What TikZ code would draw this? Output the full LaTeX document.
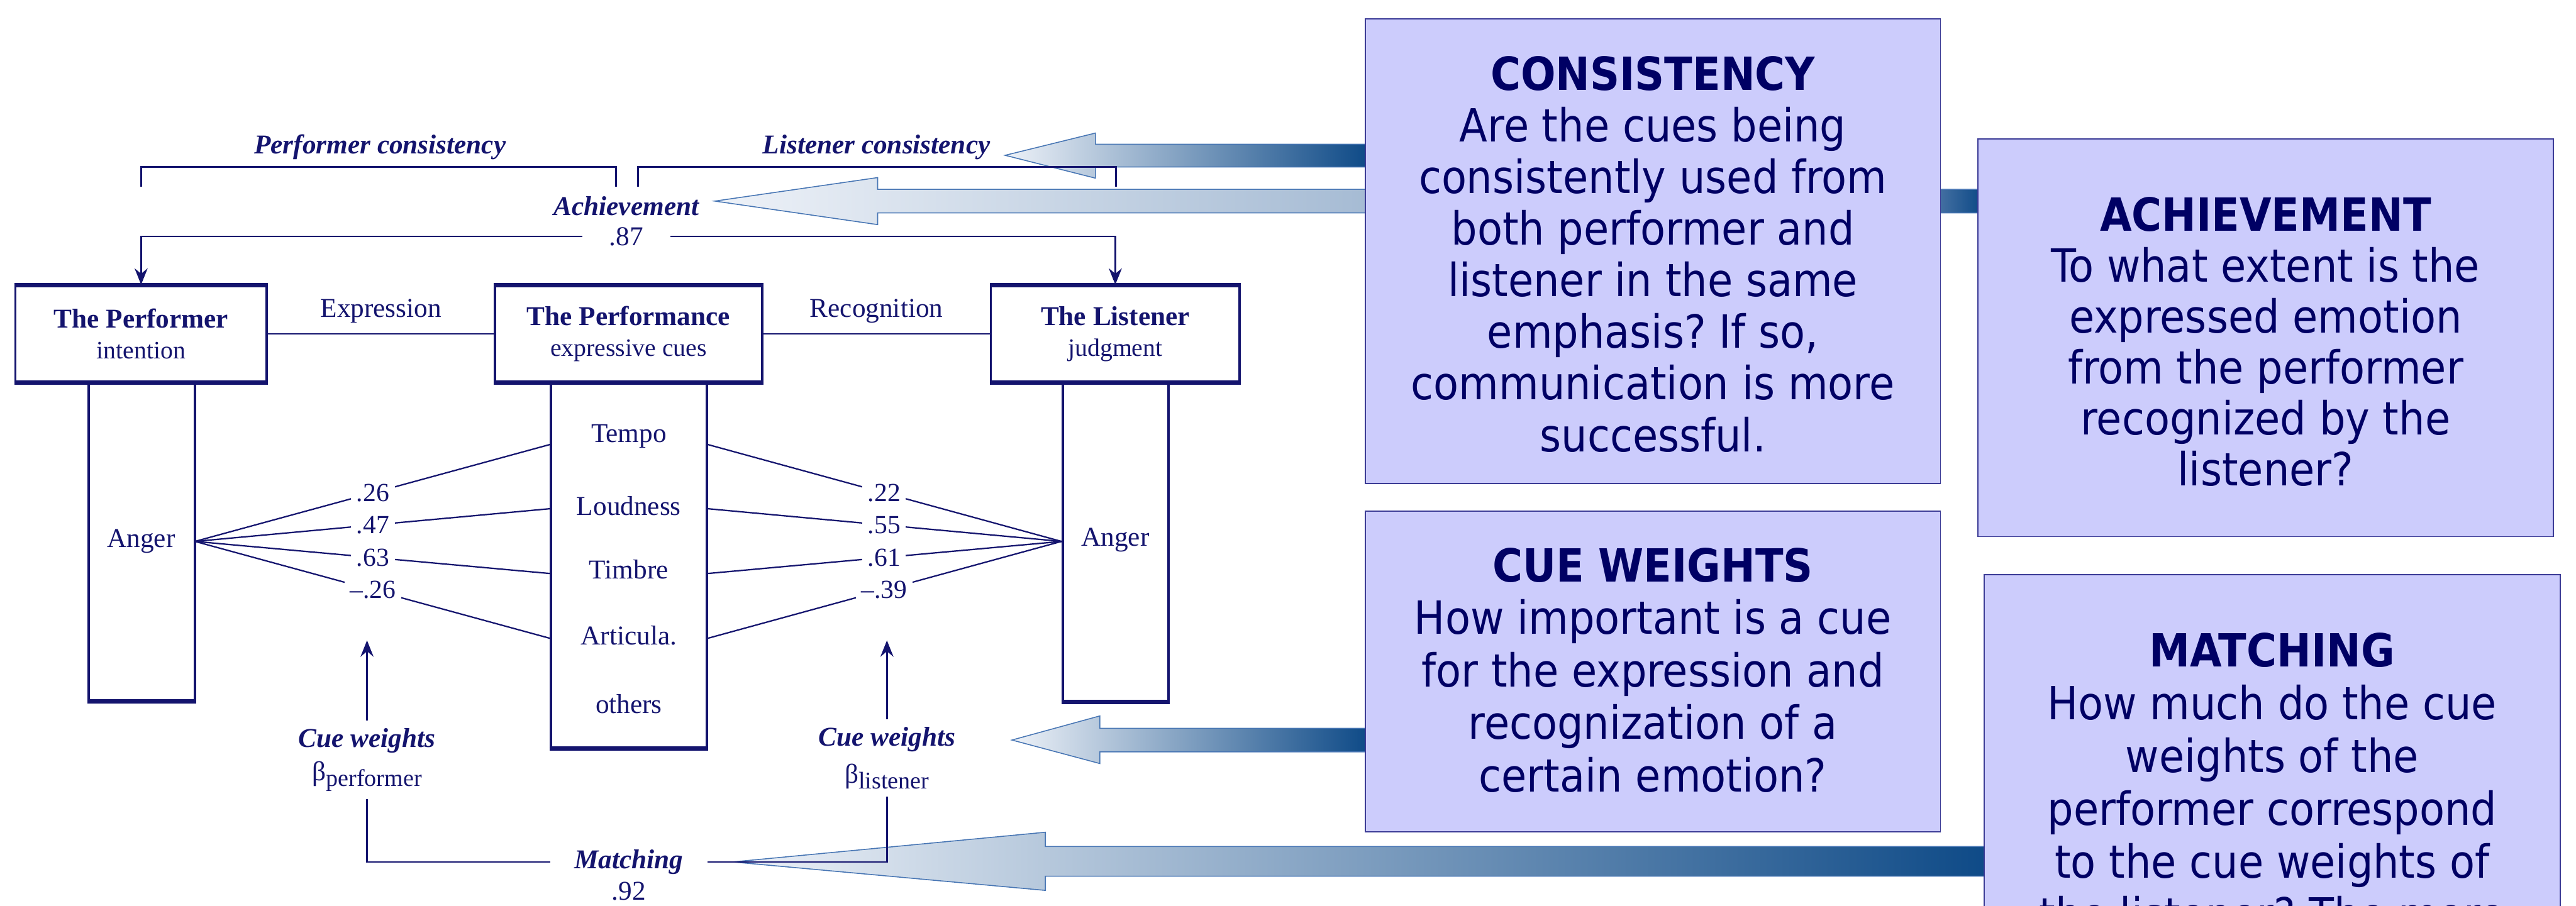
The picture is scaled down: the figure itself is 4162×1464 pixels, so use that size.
\documentclass[tikz,border=0pt]{standalone}
\usepackage{fontspec}
\setmainfont{Liberation Serif}
\newfontfamily\boxfont{DejaVu Sans Condensed}
\usetikzlibrary{arrows.meta}
\frenchspacing
\definecolor{dnavy}{RGB}{20,20,110}
\definecolor{boxfill}{RGB}{204,204,252}
\definecolor{boxline}{RGB}{60,60,150}
\definecolor{boxtext}{RGB}{0,0,100}
\definecolor{arrline}{RGB}{72,118,180}
\definecolor{gl}{RGB}{238,242,248}
\definecolor{gd}{RGB}{14,74,135}
\definecolor{gm}{RGB}{168,189,213}
\definecolor{gmm}{RGB}{80,120,168}
\pgfdeclarehorizontalshading{gradlin}{100bp}{color(0bp)=(gl); color(25bp)=(gl); color(75bp)=(gd); color(100bp)=(gd)}
\pgfdeclarehorizontalshading{gradach}{100bp}{color(0bp)=(gl); color(25bp)=(gl); color(50bp)=(gm); color(73bp)=(gmm); color(75bp)=(gd); color(100bp)=(gd)}
\begin{document}
\begin{tikzpicture}[x=0.01cm,y=-0.01cm,
  ln/.style={draw=dnavy,line width=0.8pt},
  fan/.style={draw=dnavy,line width=0.65pt},
  tip/.style={-{Stealth[length=7.5pt,width=6pt,inset=2.5pt]}},
  hbox/.style={draw=dnavy,line width=1.1pt,fill=white,minimum height=1.55cm,inner sep=0pt,align=center,text=dnavy,font=\fontsize{12.5}{14.2}\selectfont},
  colbox/.style={draw=dnavy,line width=1.1pt,fill=white,inner sep=0pt},
  thickln/.style={draw=dnavy,line width=1.8pt},
  txt/.style={text=dnavy,font=\fontsize{12.5}{14}\selectfont},
  bitxt/.style={text=dnavy,font=\fontsize{12.5}{14}\selectfont\bfseries\itshape},
  num/.style={text=dnavy,font=\fontsize{12}{13}\selectfont,fill=white,inner sep=2.5pt},
  garrow/.style={draw=arrline,line width=0.45pt},
  rbox/.style={draw=boxline,line width=0.5pt,fill=boxfill,inner sep=0pt},
  rtxt/.style={text=boxtext,align=center,inner sep=0pt},
]
\useasboundingbox (0,0) rectangle (4162,1464);
\clip (0,0) rectangle (4162,1464);

% ---------- gradient arrows ----------
\shadedraw[shading=gradlin,garrow] (1624,251) -- (1770,215) -- (1770,233) -- (2210,233) -- (2210,270) -- (1770,270) -- (1770,288) -- cycle;
\shadedraw[shading=gradach,garrow] (1155,325) -- (1418,287) -- (1418,306) -- (3200,306) -- (3200,344) -- (1418,344) -- (1418,363) -- cycle;
\shadedraw[shading=gradlin,garrow] (1635,1196) -- (1777,1157) -- (1777,1177) -- (2210,1177) -- (2210,1215) -- (1777,1215) -- (1777,1234) -- cycle;
\shadedraw[shading=gradlin,garrow] (1184,1393) -- (1689,1345) -- (1689,1368) -- (3210,1368) -- (3210,1416) -- (1689,1416) -- (1689,1439) -- cycle;

% ---------- columns ----------
\node[colbox,minimum width=1.72cm,minimum height=5.15cm] (pcol) at (229,874.5) {};
\node[colbox,minimum width=2.52cm,minimum height=5.91cm] (mcol) at (1016,912.5) {};
\node[colbox,minimum width=1.71cm,minimum height=5.16cm] (lcol) at (1802.5,875) {};
\draw[thickln] (pcol.south west) -- (pcol.south east);
\draw[thickln] (mcol.south west) -- (mcol.south east);
\draw[thickln] (lcol.south west) -- (lcol.south east);

% ---------- head boxes ----------
\node[hbox,minimum width=4.06cm] (perf) at (228,539.5) {{\bfseries The Performer}\\{\fontsize{11.5}{14.2}\selectfont intention}};
\node[hbox,minimum width=4.31cm] (pm) at (1015.5,539.5) {{\bfseries The Performance}\\{\fontsize{11.5}{14.2}\selectfont expressive cues}};
\node[hbox,minimum width=4.02cm] (list) at (1802,539.5) {{\bfseries The Listener}\\{\fontsize{11.5}{14.2}\selectfont judgment}};
\foreach \b in {perf,pm,list}{
  \draw[thickln] (\b.north west) -- (\b.north east);
  \draw[thickln] (\b.south west) -- (\b.south east);
}

\draw[ln] (perf.east) -- node[txt,midway,yshift=0.37cm]{Expression} (pm.west);
\draw[ln] (pm.east) -- node[txt,midway,yshift=0.37cm]{Recognition} (list.west);

% ---------- column texts ----------
\node[txt] (angL) at (228,875) {Anger};
\node[txt] (angR) at (1802,873) {Anger};
\node[txt] (cTempo) at (1016,705) {Tempo};
\node[txt] (cLoud) at (1016,818) {Loudness};
\node[txt] (cTimb) at (1016,920) {Timbre};
\node[txt] (cArt) at (1016,1027) {Articula.};
\node[txt] (cOth) at (1016,1138) {others};

% ---------- fan lines ----------
\coordinate (oL) at (315,875);
\coordinate (oR) at (1715,875);
\coordinate (a1) at (890,718);
\coordinate (a2) at (890,822);
\coordinate (a3) at (890,927);
\coordinate (a4) at (890,1032);
\coordinate (b1) at (1142,718);
\coordinate (b2) at (1142,822);
\coordinate (b3) at (1142,927);
\coordinate (b4) at (1142,1032);
\draw[fan] (oL) -- node[num,pos=0.5]{.26} (a1);
\draw[fan] (oL) -- node[num,pos=0.5]{.47} (a2);
\draw[fan] (oL) -- node[num,pos=0.5]{.63} (a3);
\draw[fan] (oL) -- node[num,pos=0.5]{\textendash.26} (a4);
\draw[fan] (b1) -- node[num,pos=0.5]{.22} (oR);
\draw[fan] (b2) -- node[num,pos=0.5]{.55} (oR);
\draw[fan] (b3) -- node[num,pos=0.5]{.61} (oR);
\draw[fan] (b4) -- node[num,pos=0.5]{\textendash.39} (oR);

% ---------- consistency brackets ----------
\node[bitxt] (pcons) at (614,238) {Performer consistency};
\node[bitxt] (lcons) at (1416,238) {Listener consistency};
\coordinate (pcA) at (228,302);
\coordinate (pcB) at (995,302);
\coordinate (lcA) at (1031,302);
\coordinate (lcB) at (1803,302);
\draw[ln] (pcA) -- ++(0,-32) -| (pcB);
\draw[ln] (lcA) -- ++(0,-32) -| (lcB);

% ---------- achievement ----------
\node[bitxt] (ach) at (1012,333) {Achievement};
\node[txt,inner sep=0pt,minimum width=1.41cm] (n87) at (1012,382) {.87};
\draw[ln,tip] (n87.west) -| (perf.north);
\draw[ln,tip] (n87.east) -| (list.north);

% ---------- cue weights ----------
\node[bitxt] (cwL) at (593,1197) {Cue weights};
\node[txt] (bL) at (593,1255) {β\raisebox{-0.45ex}{\fontsize{11}{12}\selectfont performer}};
\node[bitxt] (cwR) at (1433,1195) {Cue weights};
\node[txt] (bR) at (1433,1255) {β\raisebox{-0.45ex}{\fontsize{11}{12}\selectfont listener}};
\coordinate (cwLt) at (593,1035);
\coordinate (cwRt) at (1433,1035);
\draw[ln,tip] (cwL.north) -- (cwLt);
\draw[ln,tip] (cwR.north) -- (cwRt);

% ---------- matching ----------
\node[bitxt,inner sep=0pt,minimum width=2.52cm] (match) at (1016,1393) {Matching};
\node[txt] (n92) at (1016,1440) {.92};
\draw[ln] (bL.south) |- (match.west);
\draw[ln] (bR.south) |- (match.east);

% ---------- right explanation boxes ----------
\node[rbox,minimum width=9.29cm,minimum height=7.50cm] (consbox) at (2670.5,406) {};
\node[rtxt,font=\boxfont\fontsize{21}{23.7}\selectfont] (constxt) at (2670.5,411) {{\bfseries CONSISTENCY}\\Are the cues being\\consistently used from\\both performer and\\listener in the same\\emphasis? If so,\\communication is more\\successful.};

\node[rbox,minimum width=9.29cm,minimum height=6.42cm] (achbox) at (3660.5,546) {};
\node[rtxt,font=\boxfont\fontsize{21}{23.4}\selectfont] (achtxt) at (3660.5,552) {{\bfseries ACHIEVEMENT}\\To what extent is the\\expressed emotion\\from the performer\\recognized by the\\listener?};

\node[rbox,minimum width=9.29cm,minimum height=5.18cm] (cwbox) at (2670.5,1085) {};
\node[rtxt,font=\boxfont\fontsize{21}{24.1}\selectfont] (cwtxt) at (2670.5,1083) {{\bfseries CUE WEIGHTS}\\How important is a cue\\for the expression and\\recognization of a\\certain emotion?};

\node[rbox,minimum width=9.30cm,minimum height=7.71cm] (matchbox) at (3671,1314.5) {};
\node[rtxt,anchor=north,font=\boxfont\fontsize{21}{24.3}\selectfont] (matchtxt) at (3671,1022) {{\bfseries MATCHING}\\How much do the cue\\weights of the\\performer correspond\\to the cue weights of\\the listener? The more};
\end{tikzpicture}
\end{document}
